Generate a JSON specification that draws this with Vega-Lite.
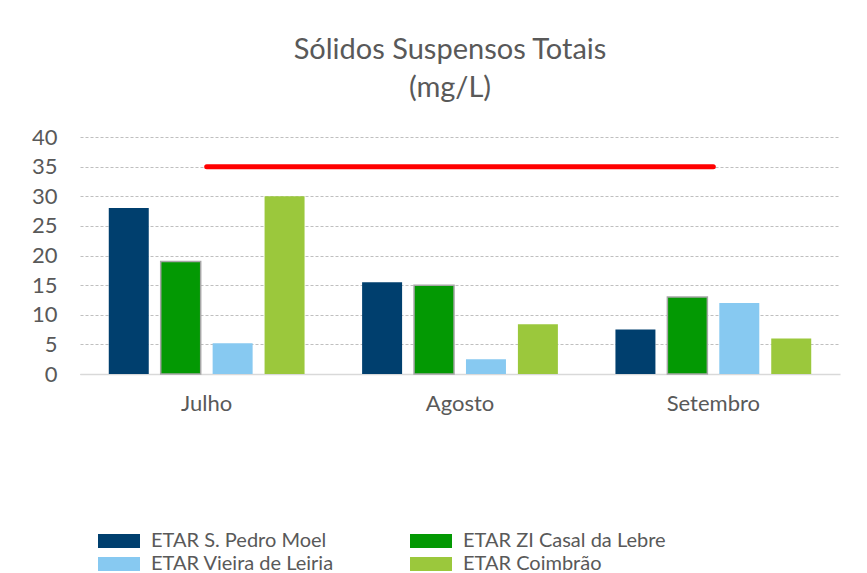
{
  "$schema": "https://vega.github.io/schema/vega-lite/v6.json",
  "width": 760,
  "height": 237,
  "autosize": "none",
  "padding": {"left": 80, "top": 137, "right": 27, "bottom": 199},
  "background": "white",
  "title": {
    "text": ["Sólidos Suspensos Totais", "(mg/L)"],
    "font": "Lato",
    "fontSize": 29,
    "fontWeight": "normal",
    "color": "#595959",
    "anchor": "middle",
    "dx": -10,
    "offset": 23,
    "lineHeight": 38
  },
  "config": {
    "view": {"stroke": null},
    "font": "Lato"
  },
  "datasets": {
    "bars": [
      {"Mes": "Julho", "ETAR": "ETAR S. Pedro Moel", "valor": 28},
      {"Mes": "Julho", "ETAR": "ETAR ZI Casal da Lebre", "valor": 19},
      {"Mes": "Julho", "ETAR": "ETAR Vieira de Leiria", "valor": 5.2},
      {"Mes": "Julho", "ETAR": "ETAR Coimbrão", "valor": 30},
      {"Mes": "Agosto", "ETAR": "ETAR S. Pedro Moel", "valor": 15.5},
      {"Mes": "Agosto", "ETAR": "ETAR ZI Casal da Lebre", "valor": 15},
      {"Mes": "Agosto", "ETAR": "ETAR Vieira de Leiria", "valor": 2.5},
      {"Mes": "Agosto", "ETAR": "ETAR Coimbrão", "valor": 8.4},
      {"Mes": "Setembro", "ETAR": "ETAR S. Pedro Moel", "valor": 7.5},
      {"Mes": "Setembro", "ETAR": "ETAR ZI Casal da Lebre", "valor": 13},
      {"Mes": "Setembro", "ETAR": "ETAR Vieira de Leiria", "valor": 12},
      {"Mes": "Setembro", "ETAR": "ETAR Coimbrão", "valor": 6}
    ],
    "limite": [
      {"Mes": "Julho", "valor": 35},
      {"Mes": "Agosto", "valor": 35},
      {"Mes": "Setembro", "valor": 35}
    ]
  },
  "encoding": {
    "x": {
      "field": "Mes", "type": "nominal", "sort": ["Julho", "Agosto", "Setembro"],
      "scale": {"paddingInner": 0.18, "paddingOuter": 0.09},
      "axis": {"title": null, "labelAngle": 0, "ticks": false, "domainColor": "#D9D9D9", "domainWidth": 1.5, "labelPadding": 19, "grid": false, "labelFont": "Lato", "labelFontSize": 22, "labelColor": "#595959"}
    },
    "y": {
      "field": "valor", "type": "quantitative",
      "scale": {"domain": [0, 40]},
      "axis": {"title": null, "values": [0, 5, 10, 15, 20, 25, 30, 35, 40], "labelOverlap": false, "domain": false, "ticks": false, "labelPadding": 23, "gridColor": "#BFBFBF", "gridDash": [3, 2], "gridWidth": 1, "labelFont": "Lato", "labelFontSize": 22, "labelColor": "#595959"}
    }
  },
  "layer": [
    {
      "data": {"name": "bars"},
      "mark": {"type": "bar", "strokeWidth": 1.5},
      "encoding": {
        "xOffset": {
          "field": "ETAR", "type": "nominal",
          "sort": ["ETAR S. Pedro Moel", "ETAR ZI Casal da Lebre", "ETAR Vieira de Leiria", "ETAR Coimbrão"],
          "scale": {"paddingInner": 0.23, "paddingOuter": 0.115}
        },
        "color": {
          "field": "ETAR", "type": "nominal",
          "scale": {"domain": ["ETAR S. Pedro Moel", "ETAR Vieira de Leiria", "ETAR ZI Casal da Lebre", "ETAR Coimbrão"], "range": ["#003F6E", "#87C9F1", "#039903", "#9BC83C"]},
          "legend": {
            "title": null,
            "orient": "none",
            "legendX": 29,
            "legendY": 394,
            "columns": 2,
            "columnPadding": 76,
            "rowPadding": 3,
            "symbolType": "M-3,-1H3V1H-3Z",
            "symbolSize": 196,
            "symbolStrokeWidth": 1.5,
            "symbolOpacity": 1,
            "labelFont": "Lato",
            "labelFontSize": 20,
            "labelColor": "#595959",
            "labelOffset": 22,
            "labelLimit": 300,
            "encode": {
              "symbols": {"update": {"stroke": {"signal": "datum.value === 'ETAR ZI Casal da Lebre' ? '#A0A0A0' : null"}}}
            }
          }
        },
        "stroke": {
          "condition": {"test": "datum.ETAR === 'ETAR ZI Casal da Lebre'", "value": "#A6A6A6"},
          "value": null
        }
      }
    },
    {
      "data": {"name": "limite"},
      "mark": {"type": "line", "color": "#FF0000", "strokeWidth": 5, "strokeCap": "round"}
    }
  ]
}
